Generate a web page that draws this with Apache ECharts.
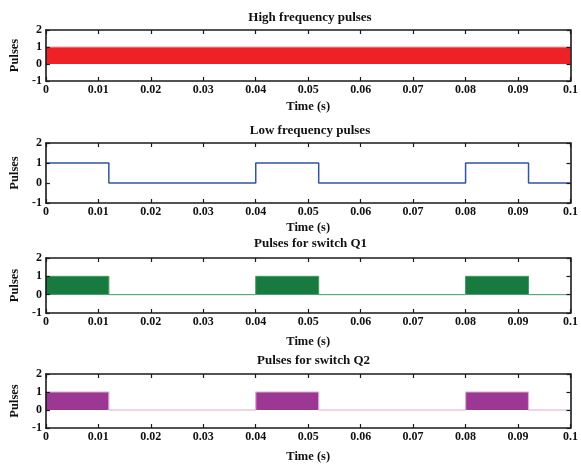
<!DOCTYPE html>
<html>
<head>
    <meta charset="utf-8" />
    <title>Pulses</title>
    <script type="text/javascript" src="https://cdn.jsdelivr.net/npm/echarts@6/dist/echarts.min.js"></script>
    <style>
        body { margin: 0; background: #fff; }
    </style>
</head>
<body>
<div id="main" style="width: 581px;height:464px;"></div>
<script type="text/javascript">
    // data
    var plotTitles = ['High frequency pulses', 'Low frequency pulses', 'Pulses for switch Q1', 'Pulses for switch Q2'];
    var hfTime = [0, 0.1];          // high frequency train looks like a solid band 0..1
    var hfLevel = [1, 1];
    var swTime = [0, 0.012, 0.04, 0.052, 0.08, 0.092, 0.1];
    var lfLevel = [1, 0, 1, 0, 1, 0, 0];
    var q1Level = [1, 0, 1, 0, 1, 0, 0];
    var q2Level = [1, 0, 1, 0, 1, 0, 0];
    var xTicks = [0, 0.01, 0.02, 0.03, 0.04, 0.05, 0.06, 0.07, 0.08, 0.09, 0.1];
    var yTicks = [-1, 0, 1, 2];

    function pairs(xs, ys) {
        var out = [];
        for (var i = 0; i < xs.length; i++) out.push([xs[i], ys[i]]);
        return out;
    }

    var font = 'Liberation Serif';
    // plot boxes, px
    var boxes = [
        {left: 38, top: 30, width: 534, height: 51},
        {left: 38, top: 143, width: 534, height: 60},
        {left: 38, top: 258, width: 535, height: 55},
        {left: 41, top: 374, width: 535, height: 58}
    ];
    var titleTops = [6, 119, 232, 349];
    var xNameGaps = [19, 18, 22, 22];

    var grids = [], xAxes = [], yAxes = [], titles = [];
    var axLine = {show: true, onZero: false, lineStyle: {color: '#1a1a1a', width: 1.6}};
    var tick = {show: true, inside: true, length: 4, lineStyle: {color: '#1a1a1a', width: 1.2}};

    boxes.forEach(function (b, i) {
        grids.push({left: b.left, top: b.top, width: b.width, height: b.height, containLabel: false});
        titles.push({
            text: plotTitles[i],
            left: b.left + b.width / 2, top: titleTops[i], textAlign: 'center',
            textStyle: {fontFamily: font, fontWeight: 'bold', fontSize: 13, color: '#111'}
        });
        var xBase = {
            type: 'value', gridIndex: i, min: xTicks[0], max: xTicks[xTicks.length - 1], interval: 0.01,
            axisLine: axLine, axisTick: tick, splitLine: {show: false}, z: 5
        };
        xAxes.push(Object.assign({}, xBase, {
            position: 'bottom',
            name: 'Time (s)', nameLocation: 'middle', nameGap: xNameGaps[i],
            nameTextStyle: {fontFamily: font, fontWeight: 'bold', fontSize: 12.5, color: '#111'},
            axisLabel: {
                fontFamily: font, fontWeight: 'bold', fontSize: 12, color: '#111', margin: 3,
                formatter: function (v) { return String(+v.toFixed(2)); }
            }
        }));
        xAxes.push(Object.assign({}, xBase, {position: 'top', axisLabel: {show: false}}));
        var yBase = {
            type: 'value', gridIndex: i, min: yTicks[0], max: yTicks[yTicks.length - 1], interval: 1,
            axisLine: axLine, axisTick: tick, splitLine: {show: false}, z: 5
        };
        yAxes.push(Object.assign({}, yBase, {
            position: 'left',
            name: 'Pulses', nameLocation: 'middle', nameGap: 20,
            nameTextStyle: {fontFamily: font, fontWeight: 'bold', fontSize: 12.5, color: '#111'},
            axisLabel: {fontFamily: font, fontWeight: 'bold', fontSize: 12, color: '#111', margin: 4}
        }));
        yAxes.push(Object.assign({}, yBase, {position: 'right', axisLabel: {show: false}}));
    });

    var myChart = echarts.init(document.getElementById('main'));
    var option = {
        animation: false,
        backgroundColor: '#fff',
        title: titles,
        grid: grids,
        xAxis: xAxes,
        yAxis: yAxes,
        series: [
            {
                type: 'line', xAxisIndex: 0, yAxisIndex: 0, symbol: 'none',
                data: pairs(hfTime, hfLevel),
                lineStyle: {color: '#f3a3a3', width: 1},
                areaStyle: {color: '#ee2226', opacity: 1, origin: 'auto'}
            },
            {
                type: 'line', xAxisIndex: 2, yAxisIndex: 2, symbol: 'none', step: 'end',
                data: pairs(swTime, lfLevel),
                lineStyle: {color: '#3154a4', width: 1.5}
            },
            {
                type: 'line', xAxisIndex: 4, yAxisIndex: 4, symbol: 'none', step: 'end',
                data: pairs(swTime, q1Level),
                lineStyle: {color: '#3f9a5e', width: 1},
                areaStyle: {color: '#177a3f', opacity: 1, origin: 'auto'}
            },
            {
                type: 'line', xAxisIndex: 6, yAxisIndex: 6, symbol: 'none', step: 'end',
                data: pairs(swTime, q2Level),
                lineStyle: {color: '#dcaad8', width: 1.2},
                areaStyle: {color: '#9c3894', opacity: 1, origin: 'auto'}
            }
        ]
    };
    myChart.setOption(option);
</script>
</body>
</html>
